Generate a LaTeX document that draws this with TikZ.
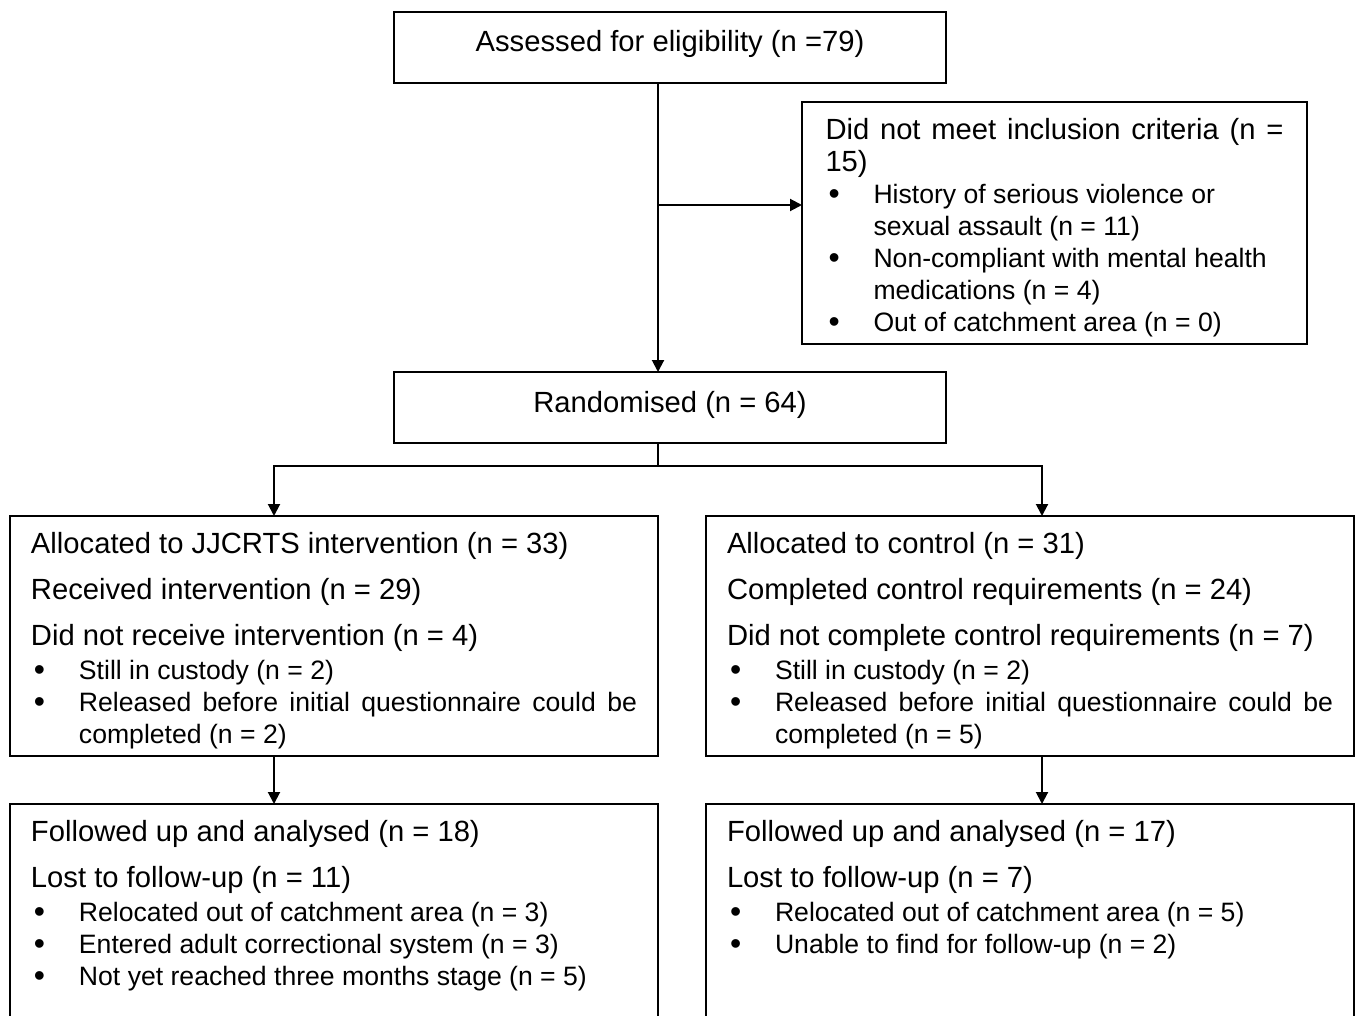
\documentclass[tikz,border=0pt]{standalone}
\usepackage{fontspec}
\setmainfont{Liberation Sans}
\usetikzlibrary{arrows.meta,positioning}
\tolerance=9999
\hbadness=10000
\newcommand{\hsz}{\fontsize{14.6pt}{16pt}\selectfont}
\newcommand{\bsz}{\fontsize{13.3pt}{16pt}\selectfont}
\newcommand{\bul}[1]{\par\hangindent=24pt\hangafter=1\noindent\makebox[24pt][l]{\hspace{1.5pt}\raisebox{-0.5pt}{\scalebox{1.2}{\textbullet}}}#1\par}

\begin{document}
\begin{tikzpicture}[
  font=\hsz,
  box/.style={draw, line width=1pt, outer sep=0pt, inner xsep=10.5pt, inner ysep=0pt, text height=18.5pt},
  head/.style={box, minimum width=276pt, text height=20pt, text depth=15.5pt},
  list/.style={box, align=justify, text width=303pt, text depth=101.5pt},
  arrow/.style={-{Triangle[length=6pt,width=6pt]}, line width=1pt}
]
\useasboundingbox (0,0) rectangle (679.5pt,-508pt);

\node[head] (assess) at (335pt,-23.75pt) {Assessed for eligibility (n =79)};

\node[box, align=justify, text width=229pt, inner xsep=11.75pt, text height=19pt, text depth=102pt,
  below right=9.5pt and -72pt of assess] (excl) {
  Did not meet inclusion criteria (n =\linebreak 15)\bsz
  \bul{History of serious violence or\newline sexual assault (n = 11)}
  \bul{Non-compliant with mental health\newline medications (n = 4)}
  \bul{Out of catchment area (n = 0)}
};

\node[head, below=144.5pt of assess] (rand) {Randomised (n = 64)};

\node[list, below left=36.5pt and -132pt of rand] (allocL) {
  Allocated to JJCRTS intervention (n = 33)\par\vspace{7pt}
  Received intervention (n = 29)\par\vspace{7pt}
  Did not receive intervention (n = 4)\par\vspace{1pt}\bsz
  \bul{Still in custody (n = 2)}
  \bul{Released before initial questionnaire could be\linebreak completed (n = 2)}
};
\node[list, below right=36.5pt and -120pt of rand] (allocR) {
  Allocated to control (n = 31)\par\vspace{7pt}
  Completed control requirements (n = 24)\par\vspace{7pt}
  Did not complete control requirements (n = 7)\par\vspace{1pt}\bsz
  \bul{Still in custody (n = 2)}
  \bul{Released before initial questionnaire could be\linebreak completed (n = 5)}
};

\node[list, text depth=91.5pt, below=24pt of allocL] (followL) {
  Followed up and analysed (n = 18)\par\vspace{7pt}
  Lost to follow-up (n = 11)\par\vspace{1pt}\bsz
  \bul{Relocated out of catchment area (n = 3)}
  \bul{Entered adult correctional system (n = 3)}
  \bul{Not yet reached three months stage (n = 5)}
};
\node[list, text depth=91.5pt, below=24pt of allocR] (followR) {
  Followed up and analysed (n = 17)\par\vspace{7pt}
  Lost to follow-up (n = 7)\par\vspace{1pt}\bsz
  \bul{Relocated out of catchment area (n = 5)}
  \bul{Unable to find for follow-up (n = 2)}
};

\coordinate (split) at ([xshift=-6pt,yshift=-61pt]assess.south);

\draw[arrow] ([xshift=-6pt]assess.south) -- ([xshift=-6pt]rand.north);
\draw[arrow] (split) -- (split -| excl.west);
\draw[arrow] ([xshift=-6pt]rand.south) -- ++(0,-11.5pt) -| ([xshift=-30pt]allocL.north);
\draw[arrow] ([xshift=-6pt]rand.south) -- ++(0,-11.5pt) -| ([xshift=6pt]allocR.north);
\draw[arrow] ([xshift=-30pt]allocL.south) -- ([xshift=-30pt]followL.north);
\draw[arrow] ([xshift=6pt]allocR.south) -- ([xshift=6pt]followR.north);

\end{tikzpicture}
\end{document}
